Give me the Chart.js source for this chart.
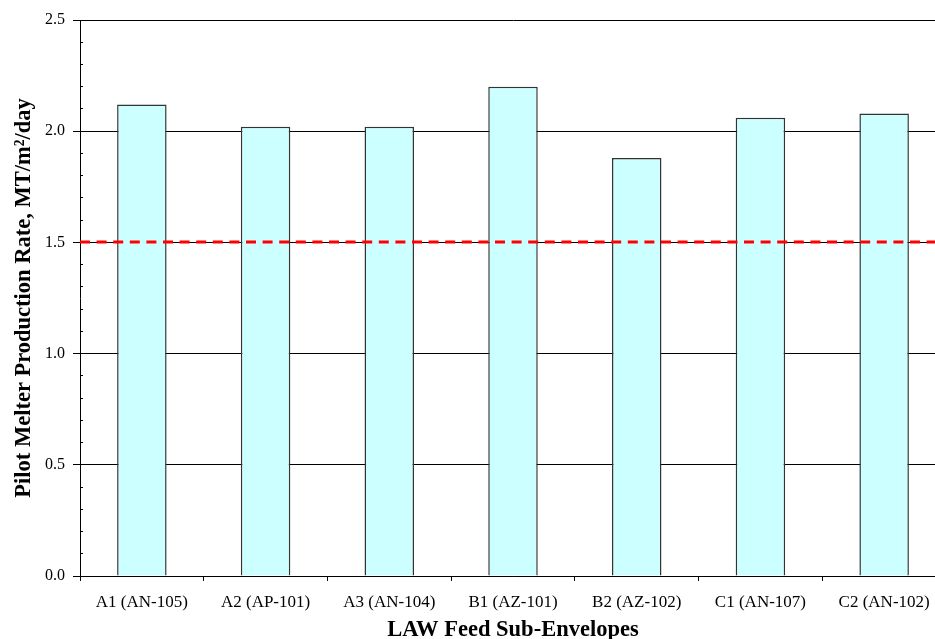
<!DOCTYPE html>
<html>
<head>
<meta charset="utf-8">
<title>Pilot Melter Production Rate</title>
<script src="https://cdn.jsdelivr.net/npm/chart.js@4.4.1/dist/chart.umd.min.js"></script>
<style>
    html, body { margin: 0; padding: 0; background: #fff; overflow: hidden; }
    #wrap { width: 935px; height: 639px; overflow: hidden; }
    canvas { display: block; }
</style>
</head>
<body>
<div id="wrap"><canvas id="rateChart" width="947" height="639"></canvas></div>
<script>
// data
const categories = ['A1 (AN-105)', 'A2 (AP-101)', 'A3 (AN-104)', 'B1 (AZ-101)', 'B2 (AZ-102)', 'C1 (AN-107)', 'C2 (AN-102)'];
const productionRates = [2.12, 2.02, 2.02, 2.20, 1.88, 2.06, 2.08];
const targetRate = 1.5;
const yTickLabels = ['0.0', '0.5', '1.0', '1.5', '2.0', '2.5'];

const serif = "'Liberation Serif', 'Times New Roman', serif";

// red dashed target line across the plot, over the bars
const targetLine = {
    id: 'targetLine',
    afterDatasetsDraw(chart) {
        const { ctx, chartArea, scales } = chart;
        const y = Math.round(scales.y.getPixelForValue(targetRate));
        ctx.save();
        ctx.strokeStyle = '#ff0000';
        ctx.lineWidth = 3;
        ctx.setLineDash([10, 6.6]);
        ctx.beginPath();
        ctx.moveTo(chartArea.left, y);
        ctx.lineTo(chartArea.right, y);
        ctx.stroke();
        ctx.restore();
    }
};

const ctx = document.getElementById('rateChart').getContext('2d');
const chart = new Chart(ctx, {
    type: 'bar',
    data: {
        labels: categories,
        datasets: [{
            data: productionRates,
            backgroundColor: '#ccffff',
            borderColor: '#333333',
            borderWidth: 1.5,
            categoryPercentage: 0.8,
            barPercentage: 0.5
        }]
    },
    options: {
        responsive: false,
        animation: false,
        devicePixelRatio: 1,
        layout: { padding: { top: 20, right: 1, bottom: 0, left: 0 } },
        plugins: {
            legend: { display: false },
            tooltip: { enabled: false }
        },
        scales: {
            x: {
                grid: { display: true, offset: true, drawOnChartArea: false, color: '#000', tickLength: 5 },
                border: { color: '#000', width: 1 },
                ticks: { color: '#000', font: { family: serif, size: 17 }, padding: 11, maxRotation: 0 },
                title: {
                    display: true,
                    text: 'LAW Feed Sub-Envelopes',
                    color: '#000',
                    font: { family: serif, size: 22.5, weight: 'bold', lineHeight: 1 },
                    padding: { top: 0, bottom: -2 }
                },
                afterFit: scale => { scale.height = 63; }
            },
            y: {
                weight: 1,
                min: 0,
                max: 2.5,
                ticks: {
                    stepSize: 0.5,
                    color: '#000',
                    font: { family: serif, size: 16 },
                    padding: 8,
                    callback: v => yTickLabels.includes(v.toFixed(1)) ? v.toFixed(1) : ''
                },
                grid: { color: '#000', lineWidth: 1, tickLength: 7 },
                border: { color: '#000', width: 1 },
                title: {
                    display: true,
                    text: 'Pilot Melter Production Rate, MT/m\u00B2/day',
                    color: '#000',
                    font: { family: serif, size: 22.5, weight: 'bold', lineHeight: 1 },
                    padding: { top: 13, bottom: 0 }
                },
                afterFit: scale => { scale.width = 80; }
            },
            yMinor: {
                position: 'left',
                weight: 0,
                min: 0,
                max: 2.5,
                ticks: { stepSize: 0.1, display: false },
                grid: { drawOnChartArea: false, color: '#000', tickLength: -3 },
                border: { display: false },
                afterFit: scale => { scale.width = 0; }
            }
        }
    },
    plugins: [targetLine]
});
</script>
</body>
</html>
